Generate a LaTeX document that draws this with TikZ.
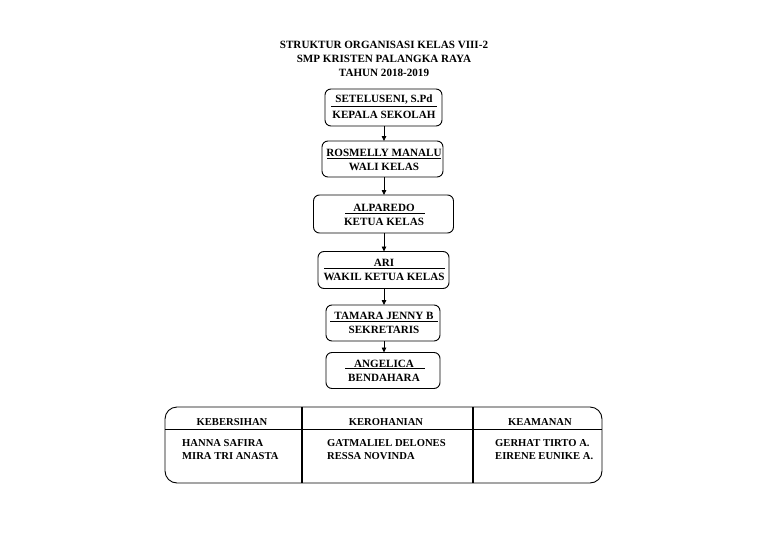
\documentclass[tikz,border=0pt]{standalone}
\usepackage{fontspec}
\setmainfont{Liberation Serif}
\usetikzlibrary{arrows.meta}
\begin{document}
\begin{tikzpicture}[x=1pt,y=-1pt,
  txt/.style={inner sep=0pt, font=\bfseries\fontsize{11.1}{12}\selectfont},
  ttxt/.style={inner sep=0pt, font=\bfseries\fontsize{10.6}{12}\selectfont},
  box/.style={draw, rounded corners=6pt, line width=0.9pt, inner sep=0pt, outer sep=0pt},
  sep/.style={line width=0.9pt},
  arr/.style={line width=0.8pt, -{Triangle[length=5pt,width=4.5pt]}},
  divider/.style={line width=1.4pt}]
\useasboundingbox[fill=white] (0,0) rectangle (768,543);
% title
\node[txt] (t1) at (384,45) {STRUKTUR ORGANISASI KELAS VIII-2};
\node[txt] (t2) at (384,59) {SMP KRISTEN PALANGKA RAYA};
\node[txt] (t3) at (384,73) {TAHUN 2018-2019};
% boxes
\node[box, minimum width=117pt, minimum height=37pt] (b1) at (383.5,107.5) {};
\node[box, minimum width=121pt, minimum height=36pt] (b2) at (382.5,159) {};
\node[box, minimum width=140pt, minimum height=38pt] (b3) at (383.5,214) {};
\node[box, minimum width=131pt, minimum height=37pt] (b4) at (383.5,270) {};
\node[box, minimum width=114pt, minimum height=36pt] (b5) at (383,323) {};
\node[box, minimum width=114pt, minimum height=36pt] (b6) at (383,370.5) {};
% texts
\node[txt] (n1) at (384,100) {SETELUSENI, S.Pd};
\node[txt] (r1) at (384,114.5) {KEPALA SEKOLAH};
\draw[sep] (331,106) -- (437,106);
\node[txt] (n2) at (384,152.5) {ROSMELLY MANALU};
\node[txt] (r2) at (384,167) {WALI KELAS};
\draw[sep] (327,158.5) -- (441,158.5);
\node[txt] (n3) at (384,207.5) {ALPAREDO};
\node[txt] (r3) at (384,221.5) {KETUA KELAS};
\draw[sep] (345,213) -- (425,213);
\node[txt] (n4) at (384,262.5) {ARI};
\node[txt] (r4) at (384,276.5) {WAKIL KETUA KELAS};
\draw[sep] (324,268) -- (445,268);
\node[txt] (n5) at (384,316) {TAMARA JENNY B};
\node[txt] (r5) at (384,330) {SEKRETARIS};
\draw[sep] (330,321.5) -- (438,321.5);
\node[txt] (n6) at (384,364) {ANGELICA};
\node[txt] (r6) at (384,377.5) {BENDAHARA};
\draw[sep] (345,368.5) -- (425,368.5);
% arrows
\coordinate (ax) at (384,0);
\draw[arr] (b1.south -| ax) -- (b2.north -| ax);
\draw[arr] (b2.south -| ax) -- (b3.north -| ax);
\draw[arr] (b3.south -| ax) -- (b4.north -| ax);
\draw[arr] (b4.south -| ax) -- (b5.north -| ax);
\draw[arr] (b5.south -| ax) -- (b6.north -| ax);
% table
\node[box, rounded corners=12pt, minimum width=437pt, minimum height=76pt] (tab) at (383.5,445) {};
\draw[sep] (tab.west |- 0,429) -- (tab.east |- 0,429);
\draw[divider] (302,0 |- tab.north) -- (302,0 |- tab.south);
\draw[divider] (473,0 |- tab.north) -- (473,0 |- tab.south);
\node[ttxt] (h1) at (232,422) {KEBERSIHAN};
\node[ttxt] (h2) at (386,422) {KEROHANIAN};
\node[ttxt] (h3) at (540,422) {KEAMANAN};
\node[ttxt, anchor=west] (p1) at (182,443) {HANNA SAFIRA};
\node[ttxt, anchor=west] (p2) at (182,456) {MIRA TRI ANASTA};
\node[ttxt, anchor=west] (p3) at (327,443) {GATMALIEL DELONES};
\node[ttxt, anchor=west] (p4) at (327,456) {RESSA NOVINDA};
\node[ttxt, anchor=west] (p5) at (495,443) {GERHAT TIRTO A.};
\node[ttxt, anchor=west] (p6) at (495,456) {EIRENE EUNIKE A.};
\end{tikzpicture}
\end{document}
